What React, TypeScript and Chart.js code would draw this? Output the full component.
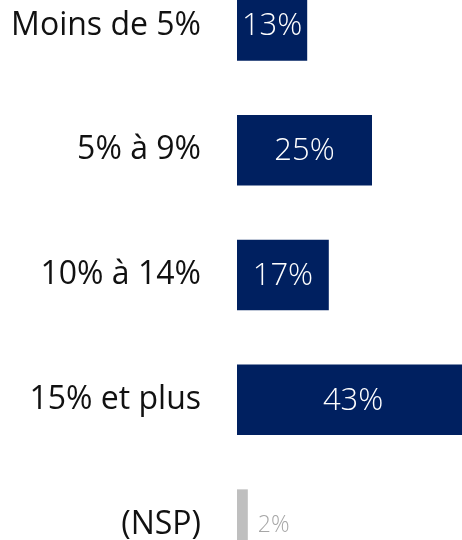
import React, { useEffect, useRef } from "react";
import { Chart, registerables } from "chart.js";

Chart.register(...registerables);

const categories = ["Moins de 5%", "5% à 9%", "10% à 14%", "15% et plus", "(NSP)"];
const values = [13, 25, 17, 43, 2];
const barColors = ["#002060", "#002060", "#002060", "#002060", "#BFBFBF"];
const labelColors = ["#FFFFFF", "#FFFFFF", "#FFFFFF", "#FFFFFF", "#A6A6A6"];
const labelInside = [true, true, true, true, false];

const valueLabels = {
  id: "valueLabels",
  afterDatasetsDraw(chart: any) {
    const ctx = chart.ctx;
    const meta = chart.getDatasetMeta(0);
    ctx.save();
    meta.data.forEach((bar: any, i: number) => {
      const v = chart.data.datasets[0].data[i];
      const text = v + "%";
      ctx.textBaseline = "middle";
      if (labelInside[i]) {
        ctx.font = "300 31px 'Open Sans'";
        ctx.fillStyle = labelColors[i];
        ctx.textAlign = "center";
        ctx.fillText(text, (bar.x + bar.base) / 2, bar.y + 1);
      } else {
        ctx.font = "300 23px 'Open Sans'";
        ctx.fillStyle = labelColors[i];
        ctx.textAlign = "left";
        ctx.fillText(text, bar.x + 10, bar.y + 1);
      }
    });
    ctx.restore();
  },
};

export default function App() {
  const ref = useRef<HTMLCanvasElement>(null);
  useEffect(() => {
    if (!ref.current) return;
    const chart = new Chart(ref.current, {
      type: "bar",
      data: {
        labels: categories,
        datasets: [
          {
            data: values,
            backgroundColor: barColors,
            borderWidth: 0,
            categoryPercentage: 1,
            barPercentage: 0.565,
          },
        ],
      },
      options: {
        indexAxis: "y",
        animation: false,
        responsive: false,
        maintainAspectRatio: false,
        layout: { padding: 0 },
        plugins: { legend: { display: false }, tooltip: { enabled: false } },
        scales: {
          x: { display: false, min: 0, max: 45 },
          y: {
            grid: { display: false, drawTicks: false },
            border: { display: false },
            afterFit: (scale: any) => {
              scale.width = 237;
              scale.paddingTop = 0;
              scale.paddingBottom = 0;
            },
            ticks: {
              padding: 36,
              color: "#111111",
              font: { family: "'Open Sans'", size: 32, weight: "normal" },
            },
          },
        },
      },
      plugins: [valueLabels],
    });
    return () => chart.destroy();
  }, []);
  return (
    <div style={{ position: "fixed", left: 0, top: 0, width: 462, height: 540, overflow: "hidden", background: "#fff" }}>
      <canvas
        ref={ref}
        width={480}
        height={624}
        style={{ position: "absolute", left: 0, top: -37, width: 480, height: 624 }}
      />
    </div>
  );
}
